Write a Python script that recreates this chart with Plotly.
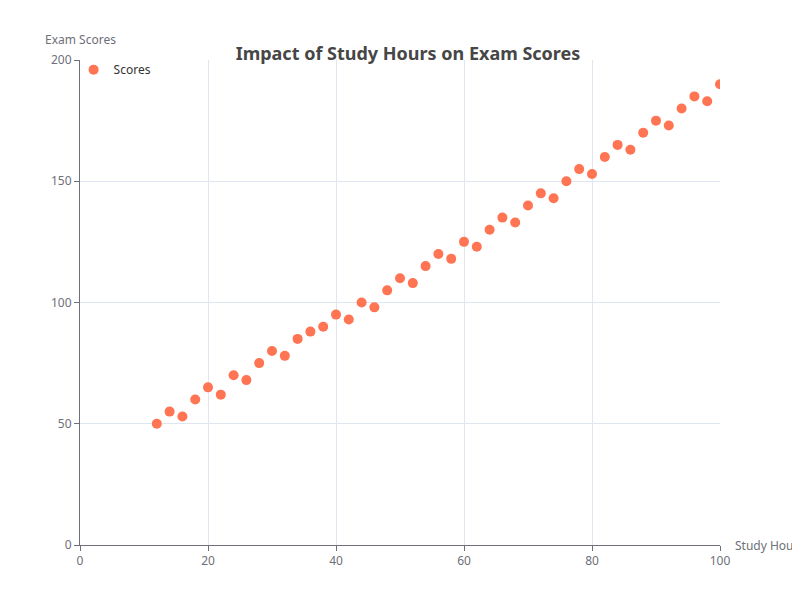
import plotly.graph_objects as go

# Study hours vs exam score
hours = list(range(12, 101, 2))
scores = [50, 55, 53, 60, 65, 62, 70, 68, 75, 80, 78, 85, 88, 90, 95, 93, 100, 98,
          105, 110, 108, 115, 120, 118, 125, 123, 130, 135, 133, 140, 145, 143, 150,
          155, 153, 160, 165, 163, 170, 175, 173, 180, 185, 183, 190]

fig = go.Figure(go.Scatter(
    x=hours, y=scores, mode='markers', name='Scores',
    marker=dict(color='#ff7452', size=10),
))

axis_common = dict(
    showline=True, linecolor='#6e7079', gridcolor='#e0e6f1', zeroline=False,
    ticks='outside', ticklen=5, tickcolor='#6e7079',
    tickfont=dict(color='#6e7079', size=12),
)

fig.update_layout(
    width=800, height=600,
    paper_bgcolor='white', plot_bgcolor='white',
    font=dict(family='Noto Sans, sans-serif'),
    title=dict(text='<b>Impact of Study Hours on Exam Scores</b>', x=0.5, y=0.935,
               xanchor='center', font=dict(size=18, color='#464646')),
    margin=dict(l=72, r=88, t=52, b=63, autoexpand=False),
    xaxis=dict(range=[0, 100], dtick=20, **axis_common),
    yaxis=dict(range=[0, 200], dtick=50, **axis_common),
    showlegend=True,
    legend=dict(x=-0.01, y=1.01, xanchor='left', yanchor='top', bgcolor='rgba(0,0,0,0)',
                font=dict(size=12, color='#333')),
    annotations=[
        dict(text='Study Hours', xref='paper', yref='paper', x=1.02, y=0,
             xanchor='left', yanchor='middle', showarrow=False,
             font=dict(size=12, color='#6e7079')),
        dict(text='Exam Scores', xref='paper', yref='paper', x=0, y=1.02,
             xanchor='center', yanchor='bottom', showarrow=False,
             font=dict(size=12, color='#6e7079')),
    ],
)

fig.write_html("out.html")
